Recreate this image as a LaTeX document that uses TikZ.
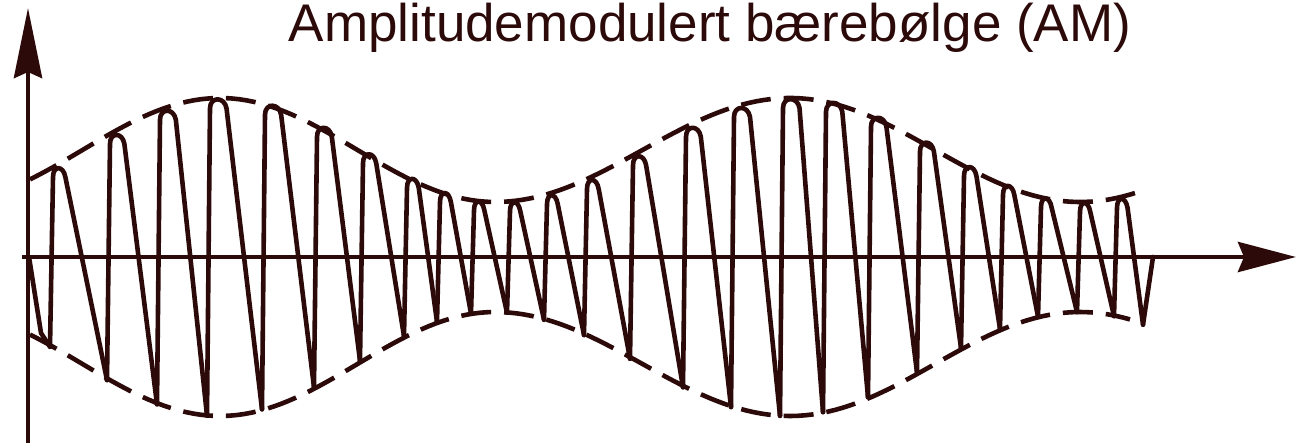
\documentclass[tikz,border=0pt]{standalone}
\usepackage{fontspec}
\setmainfont{Liberation Sans}
\usetikzlibrary{arrows.meta}
\definecolor{inkc}{RGB}{45,10,10}
\begin{document}
\begin{tikzpicture}[x=1pt,y=-1pt,
  declare function={
    ph(\x)=(\x<495) ? ((\x-220)/275*180) : ((\x<790) ? (180+(\x-495)/295*180) : (360+(\x-790)/290*180));
    env(\x)=107+52*cos(ph(\x));
  },
  axisline/.style={draw=inkc, line width=4.5pt},
  carrier/.style={draw=inkc, line width=4.6pt, line cap=round, line join=round},
  envelope/.style={draw=inkc, line width=4.6pt, dash pattern=on 30pt off 13pt},
  title/.style={text=inkc, inner sep=0pt, anchor=base, font=\fontsize{53}{60}\selectfont}
]
\useasboundingbox (0,0) rectangle (1296,443);

% axes
\coordinate (ybot) at (28,443);
\coordinate (ytop) at (28,8);
\coordinate (xstart) at (22,257);
\coordinate (xend) at (1296,257);
\draw[axisline, -{Stealth[length=70pt, width=28pt, inset=6pt]}] (ybot) -- (ytop);
\draw[axisline, -{Stealth[length=58pt, width=30pt, inset=6pt]}] (xstart) -- (xend);

% title
\node[title] (title) at (710,42) {Amplitudemodulert bærebølge (AM)};

% envelope
\draw[envelope] plot[domain=30:1145, samples=150] (\x, {257-env(\x)});
\draw[envelope] plot[domain=30:1130, samples=150] (\x, {257+env(\x)});

% carrier start
\coordinate (c0) at (29,257);
\coordinate (c1) at (41,333);
\pgfmathsetmacro{\Af}{env(53)}
\coordinate (c2) at (50,{257+\Af});
\draw[carrier] (c0) -- (c1) -- (c2);

% carrier cycles
\foreach \u/\n in {53/110,110/160,160/210,210/265,265/317,317/363,363/407,407/440,440/474,474/510,510/547,547/587,587/633,633/686,686/734,734/783,783/826,826/871,871/920,920/964,964/1003,1003/1041,1041/1080,1080/1117,1117/1146} {
  \pgfmathsetmacro{\Au}{env(\u)}
  \pgfmathsetmacro{\An}{env(\n)}
  \pgfmathsetmacro{\w}{5+0.06*\Au}
  \draw[carrier] (\u-3, {257+\Au}) -- (\u, {257-\Au+10})
    .. controls (\u, {257-\Au-2}) and (\u+\w, {257-\Au-2}) .. (\u+\w+2, {257-\Au+10})
    -- (\n-3, {257+\An});
}

% carrier end
\pgfmathsetmacro{\Al}{env(1146)}
\coordinate (e1) at (1143,{257+\Al});
\coordinate (e2) at (1153,257);
\draw[carrier] (e1) -- (e2);
\end{tikzpicture}
\end{document}
